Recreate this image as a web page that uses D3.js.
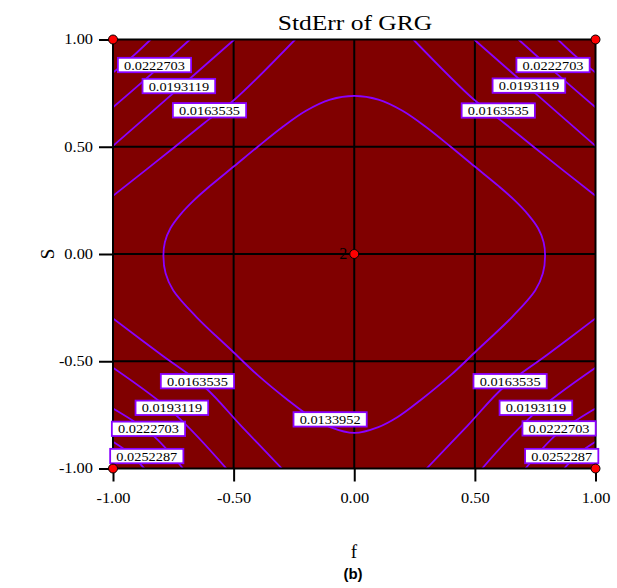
<!DOCTYPE html>
<html>
<head>
<meta charset="utf-8">
<script src="https://cdn.jsdelivr.net/npm/d3@7"></script>
<style>
  html, body { margin: 0; padding: 0; background: #fff; }
  svg { display: block; }
</style>
</head>
<body>
<svg id="chart" width="617" height="588"></svg>
<script>
// ---- data ----
const tickValues = [-1, -0.5, 0, 0.5, 1];
const tickLabels = ["-1.00", "-0.50", "0.00", "0.50", "1.00"];
const levels = ["0.0133952", "0.0163535", "0.0193119", "0.0222703", "0.0252287"];

// design points [f, S] and replicate counts
const designPoints = [[-1, -1], [1, -1], [-1, 1], [1, 1], [0, 0]];
const designCounts = [1, 1, 1, 1, 2];

// contour paths, [f, S] points along each line
const centralContour = [
  [0, 0.737], [-0.1, 0.72], [-0.2, 0.668], [-0.3, 0.59], [-0.4, 0.5], [-0.497, 0.41],
  [-0.6, 0.315], [-0.665, 0.25], [-0.72, 0.185], [-0.762, 0.12], [-0.785, 0.055],
  [-0.791, -0.01], [-0.782, -0.09], [-0.75, -0.17], [-0.653, -0.295], [-0.508, -0.45],
  [-0.4, -0.565], [-0.273, -0.683], [-0.18, -0.76], [-0.1, -0.807], [0, -0.834],
  [0.1, -0.807], [0.18, -0.76], [0.273, -0.683], [0.4, -0.565], [0.508, -0.45],
  [0.653, -0.295], [0.75, -0.17], [0.782, -0.09], [0.791, -0.01], [0.785, 0.055],
  [0.762, 0.12], [0.72, 0.185], [0.665, 0.25], [0.6, 0.315], [0.497, 0.41],
  [0.4, 0.5], [0.3, 0.59], [0.2, 0.668], [0.1, 0.72]
];
const line16TL = [[-1, 0.271], [-0.743, 0.5], [-0.62, 0.612], [-0.497, 0.719], [-0.245, 1]];
const line19TL = [[-1, 0.504], [-0.75, 0.75], [-0.497, 1]];
const line22TL = [[-1, 0.684], [-0.84, 0.84], [-0.681, 1]];
const line25TL = [[-1, 0.846], [-0.92, 0.92], [-0.844, 1]];
const line16TR = [[1, 0.271], [0.743, 0.5], [0.62, 0.612], [0.497, 0.719], [0.245, 1]];
const line19TR = [[1, 0.504], [0.75, 0.75], [0.497, 1]];
const line22TR = [[1, 0.684], [0.84, 0.84], [0.681, 1]];
const line25TR = [[1, 0.846], [0.92, 0.92], [0.844, 1]];
const line16BL = [[-1, -0.30], [-0.80, -0.47], [-0.62, -0.62], [-0.47, -0.80], [-0.30, -1]];
const line19BL = [[-1, -0.53], [-0.745, -0.745], [-0.53, -1]];
const line22BL = [[-1, -0.72], [-0.84, -0.84], [-0.71, -1]];
const line25BL = [[-1, -0.875], [-0.93, -0.93], [-0.87, -1]];
const line16BR = [[1, -0.30], [0.80, -0.47], [0.62, -0.62], [0.47, -0.80], [0.30, -1]];
const line19BR = [[1, -0.53], [0.745, -0.745], [0.53, -1]];
const line22BR = [[1, -0.72], [0.84, -0.84], [0.71, -1]];
const line25BR = [[1, -0.875], [0.93, -0.93], [0.87, -1]];

const openLines = [
  line16TL, line19TL, line22TL, line25TL,
  line16TR, line19TR, line22TR, line25TR,
  line16BL, line19BL, line22BL, line25BL,
  line16BR, line19BR, line22BR, line25BR
];

// contour label anchors: [text, f, S]
const contourLabels = [
  ["0.0222703", -0.828, 0.881], ["0.0193119", -0.727, 0.783], ["0.0163535", -0.600, 0.670],
  ["0.0222703", 0.824, 0.881], ["0.0193119", 0.724, 0.785], ["0.0163535", 0.597, 0.669],
  ["0.0163535", -0.650, -0.593], ["0.0193119", -0.756, -0.717], ["0.0222703", -0.853, -0.815], ["0.0252287", -0.860, -0.942],
  ["0.0163535", 0.646, -0.593], ["0.0193119", 0.753, -0.717], ["0.0222703", 0.849, -0.813], ["0.0252287", 0.860, -0.942],
  ["0.0133952", -0.100, -0.771]
];

// ---- drawing ----
const svg = d3.select("#chart");
const x = d3.scaleLinear().domain([-1, 1]).range([113, 595.5]);
const y = d3.scaleLinear().domain([-1, 1]).range([468.5, 39.5]);
const serif = "'Liberation Serif', 'Times New Roman', serif";
const purple = "#8a00ff";
const stretch = 1.17;

function widen(sel, k) {
  sel.each(function () {
    const len = this.getComputedTextLength();
    d3.select(this).attr("textLength", len * k).attr("lengthAdjust", "spacingAndGlyphs");
  });
  return sel;
}

svg.append("defs").append("clipPath").attr("id", "plotClip")
  .append("rect").attr("x", x(-1)).attr("y", y(1))
  .attr("width", x(1) - x(-1)).attr("height", y(-1) - y(1));

// background
svg.append("rect").attr("x", x(-1)).attr("y", y(1))
  .attr("width", x(1) - x(-1)).attr("height", y(-1) - y(1))
  .attr("fill", "#800000");

// grid
const grid = svg.append("g").attr("stroke", "#000").attr("stroke-width", 2);
[-0.5, 0, 0.5].forEach(v => {
  grid.append("line").attr("x1", x(v)).attr("x2", x(v)).attr("y1", y(1)).attr("y2", y(-1));
  grid.append("line").attr("x1", x(-1)).attr("x2", x(1)).attr("y1", y(v)).attr("y2", y(v));
});

// contours
const cg = svg.append("g").attr("clip-path", "url(#plotClip)")
  .attr("fill", "none").attr("stroke", purple).attr("stroke-width", 1.8);
const lineGen = d3.line().x(d => x(d[0])).y(d => y(d[1])).curve(d3.curveCatmullRom.alpha(0.5));
const closedGen = d3.line().x(d => x(d[0])).y(d => y(d[1])).curve(d3.curveCatmullRomClosed.alpha(0.5));
cg.append("path").attr("d", closedGen(centralContour));
openLines.forEach(pts => cg.append("path").attr("d", lineGen(pts)));

// frame
svg.append("rect").attr("x", x(-1)).attr("y", y(1))
  .attr("width", x(1) - x(-1)).attr("height", y(-1) - y(1))
  .attr("fill", "none").attr("stroke", "#000").attr("stroke-width", 2);

// axes
const xAxis = d3.axisBottom(x).tickValues(tickValues).tickFormat((d, i) => tickLabels[i])
  .tickSize(13).tickPadding(6);
const yAxis = d3.axisLeft(y).tickValues(tickValues).tickFormat((d, i) => tickLabels[i])
  .tickSize(14).tickPadding(6);
const gx = svg.append("g").attr("transform", `translate(0,${y(-1)})`).call(xAxis);
const gy = svg.append("g").attr("transform", `translate(${x(-1)},0)`).call(yAxis);
[gx, gy].forEach(g => {
  g.select(".domain").remove();
  g.selectAll(".tick line").attr("stroke", "#000").attr("stroke-width", 2);
  g.selectAll(".tick text").attr("font-family", serif).attr("font-size", 14).attr("fill", "#000");
});
gx.selectAll(".tick text").attr("dy", "1.1em");
widen(gx.selectAll(".tick text"), stretch);
widen(gy.selectAll(".tick text"), stretch);

// contour labels
const lg = svg.append("g");
contourLabels.forEach(([txt, f, s]) => {
  const g = lg.append("g").attr("transform", `translate(${x(f)},${y(s)})`);
  const rect = g.append("rect");
  const t = g.append("text").text(txt).attr("text-anchor", "middle").attr("dy", "0.36em")
    .attr("font-family", serif).attr("font-size", 12.8).attr("fill", "#000");
  widen(t, 1.12);
  const w = t.node().getComputedTextLength() * 1.12 + 5;
  rect.attr("x", -w / 2).attr("y", -7.2).attr("width", w).attr("height", 14.4)
    .attr("fill", "#fff").attr("stroke", purple).attr("stroke-width", 1.8);
});

// design points
svg.append("g").selectAll("circle").data(designPoints).join("circle")
  .attr("cx", d => x(d[0])).attr("cy", d => y(d[1])).attr("r", 4.5)
  .attr("fill", "#ff0000").attr("stroke", "#000").attr("stroke-width", 1);
designPoints.forEach((d, i) => {
  if (designCounts[i] > 1) {
    svg.append("text").text(designCounts[i])
      .attr("x", x(d[0]) - 7).attr("y", y(d[1]) + 4.5)
      .attr("text-anchor", "end").attr("font-family", serif).attr("font-size", 16).attr("fill", "#000");
  }
});

// titles
widen(svg.append("text").text("StdErr of GRG").attr("x", 355).attr("y", 30)
  .attr("text-anchor", "middle").attr("font-family", serif).attr("font-size", 22).attr("fill", "#000"), 1.16);
svg.append("text").text("f").attr("x", 354).attr("y", 558)
  .attr("text-anchor", "middle").attr("font-family", serif).attr("font-size", 19).attr("fill", "#000");
svg.append("text").text("S").attr("transform", "translate(54,254) rotate(-90)")
  .attr("text-anchor", "middle").attr("font-family", serif).attr("font-size", 19).attr("fill", "#000");
svg.append("text").text("(b)").attr("x", 353).attr("y", 579)
  .attr("text-anchor", "middle").attr("font-family", "'Liberation Sans', Arial, sans-serif")
  .attr("font-weight", "bold").attr("font-size", 15).attr("fill", "#000");
</script>
</body>
</html>
